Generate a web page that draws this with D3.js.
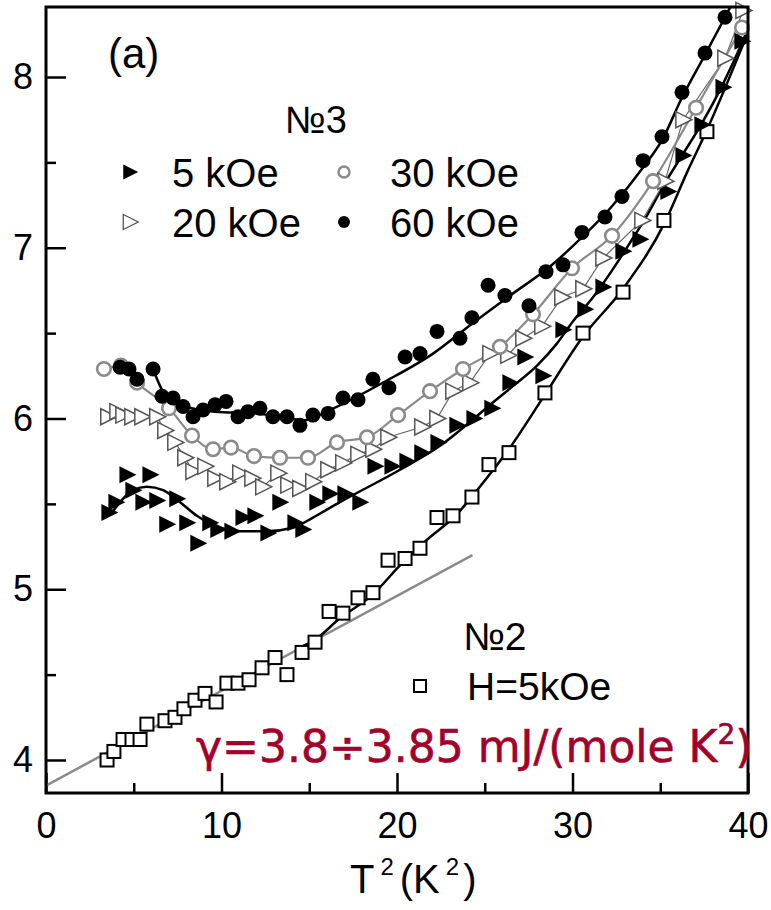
<!DOCTYPE html>
<html>
<head>
<meta charset="utf-8">
<script src="https://cdn.jsdelivr.net/npm/d3@7"></script>
<style>
  html, body { margin: 0; padding: 0; background: #fff; }
  svg { display: block; }
  text { font-family: "Liberation Sans", Arial, sans-serif; fill: #000; }
</style>
</head>
<body>
<div id="chart"></div>
<script>
// Tick values
const xTicks = [0, 10, 20, 30, 40];
const xMinorTicks = [5, 15, 25, 35];
const yTicks = [4, 5, 6, 7, 8];
const yMinorTicks = [4.5, 5.5, 6.5, 7.5];

// Sample №3, H = 5 kOe  [T^2, C/T]
const h5 = [[3.59,5.45],[3.99,5.51],[4.62,5.67],[4.96,5.58],[5.53,5.51],[5.93,5.67],[6.32,5.52],[6.89,5.38],
  [7.46,5.53],[8.03,5.39],[8.66,5.27],[9.34,5.39],[9.80,5.35],[10.60,5.34],[11.23,5.42],[11.91,5.43],
  [12.65,5.33],[13.33,5.51],[14.19,5.39],[14.64,5.35],[15.44,5.51],[16.18,5.56],[17.04,5.56],[17.89,5.51],
  [18.75,5.72],[19.72,5.72],[20.57,5.75],[21.42,5.80],[22.34,5.86],[23.42,5.96],[24.39,6.00],[25.41,6.06],
  [26.44,6.21],[27.29,6.36],[28.32,6.25],[29.46,6.52],[30.71,6.64],[31.74,6.77],[32.88,6.98],[33.85,7.05],
  [35.44,7.33],[36.30,7.54],[37.38,7.72],[38.58,7.94],[39.66,8.21]];

// Sample №3, H = 20 kOe
const h20 = [[3.53,6.01],[4.05,6.04],[4.39,6.02],[4.90,6.01],[5.47,6.01],[6.32,6.01],[6.78,5.93],[7.35,5.86],
  [7.92,5.77],[8.38,5.69],[9.06,5.72],[9.63,5.65],[10.31,5.63],[11.05,5.68],[11.74,5.65],[12.36,5.60],
  [13.22,5.68],[13.79,5.61],[14.47,5.59],[15.21,5.63],[16.07,5.70],[16.92,5.74],[17.78,5.79],[18.63,5.82],
  [19.49,5.89],[21.42,5.95],[22.28,6.00],[23.19,6.16],[24.16,6.21],[25.30,6.38],[26.32,6.37],[27.18,6.47],
  [28.26,6.54],[29.40,6.71],[30.60,6.76],[31.74,6.94],[33.96,7.16],[35.27,7.39],[36.30,7.75],[38.69,8.11],
  [39.72,8.39]];

// Sample №3, H = 30 kOe
const h30 = [[3.30,6.29],[4.27,6.31],[5.19,6.21],[7.01,6.06],[8.32,5.90],[9.52,5.82],[10.54,5.83],[11.85,5.78],
  [13.33,5.77],[14.93,5.77],[16.58,5.86],[18.29,5.89],[20.06,6.02],[21.88,6.16],[23.76,6.29],[25.87,6.42],
  [27.75,6.61],[29.97,6.88],[32.25,7.07],[34.59,7.39],[37.04,7.82],[39.66,8.29]];

// Sample №3, H = 60 kOe
const h60 = [[4.22,6.30],[4.73,6.29],[5.19,6.23],[6.10,6.29],[6.61,6.13],[7.24,6.12],[7.81,6.07],[8.38,6.01],
  [8.95,6.05],[9.63,6.08],[10.26,6.10],[10.94,6.01],[11.51,6.04],[12.19,6.06],[12.93,6.01],[13.73,6.01],
  [14.47,5.96],[15.21,6.02],[16.07,6.03],[16.92,6.12],[17.78,6.11],[18.63,6.23],[19.54,6.18],[20.46,6.36],
  [21.31,6.38],[22.28,6.51],[23.59,6.47],[24.27,6.59],[25.19,6.78],[26.15,6.72],[27.52,6.66],[28.49,6.86],
  [29.46,6.90],[30.54,7.09],[31.85,7.18],[32.82,7.30],[34.02,7.51],[35.10,7.65],[36.24,7.91],[37.55,8.14],
  [38.69,8.35]];

// Sample №2, H = 5 kOe
const sq = [[3.48,4.00],[3.87,4.05],[4.39,4.12],[4.90,4.12],[5.36,4.12],[5.75,4.21],[6.78,4.23],[7.35,4.25],
  [7.86,4.30],[8.49,4.35],[9.06,4.39],[9.69,4.34],[10.31,4.45],[10.94,4.45],[11.57,4.47],[12.31,4.54],
  [13.05,4.60],[13.73,4.50],[14.59,4.63],[15.33,4.69],[16.13,4.87],[16.92,4.86],[17.78,4.95],[18.63,4.98],
  [19.49,5.17],[20.46,5.18],[21.31,5.24],[22.28,5.42],[23.19,5.43],[24.27,5.54],[25.24,5.73],[26.38,5.80],
  [28.43,6.15],[30.60,6.50],[32.88,6.74],[35.21,7.16],[37.66,7.68]];

// Fitted curves
const fit5 = [[3.76,5.45],[4.96,5.58],[5.75,5.60],[6.67,5.58],[7.64,5.51],[8.60,5.43],[9.91,5.36],[11.05,5.34],
  [12.59,5.34],[14.07,5.36],[15.21,5.42],[16.75,5.51],[20.17,5.70],[22.45,5.84],[24.16,5.98],[25.30,6.08],
  [26.61,6.19],[27.98,6.31],[29.12,6.44],[30.03,6.57],[31.17,6.71],[32.14,6.85],[33.28,7.03],[34.25,7.19],
  [35.16,7.36],[36.30,7.55],[37.38,7.73],[38.58,7.96],[39.66,8.20],[40.3,8.36]];
const fit60 = [[6.10,6.29],[6.78,6.14],[7.92,6.07],[9.63,6.04],[11.91,6.03],[13.90,6.00],[14.76,5.99],[16.18,6.05],
  [19.20,6.21],[22.05,6.38],[24.33,6.56],[26.44,6.72],[28.72,6.89],[30.43,7.05],[32.14,7.23],[34.02,7.47],
  [35.10,7.63],[36.24,7.88],[37.55,8.13],[38.69,8.35],[39.3,8.47]];
const fitSq = [[14.47,4.66],[15.27,4.70],[16.75,4.83],[18.63,4.97],[20.17,5.14],[21.71,5.29],[23.42,5.44],
  [24.56,5.58],[26.44,5.83],[28.43,6.14],[30.60,6.48],[32.88,6.76],[35.27,7.15],[36.52,7.44],[37.66,7.69],
  [40.0,8.26],[40.4,8.36]];
// Linear low-temperature fit: C/T = gamma + beta*T^2
const gammaFit = [[0,3.85],[24.3,5.20]];

const W = 771, H = 910;
const svg = d3.select("#chart").append("svg").attr("width", W).attr("height", H);

const x = d3.scaleLinear().domain([0, 40]).range([46, 748]);
const y = d3.scaleLinear().domain([3.8067, 8.41]).range([793, 7]);

svg.append("defs").append("clipPath").attr("id", "plot")
  .append("rect").attr("x", 46).attr("y", 7).attr("width", 702).attr("height", 786);

// Axes: inward ticks on left and bottom
const axStyle = g => {
  g.select(".domain").remove();
  g.selectAll(".tick line").attr("stroke", "#000").attr("stroke-width", 2.5);
  g.selectAll(".tick text").style("font-size", "36px").attr("fill", "#000");
};
svg.append("g").attr("transform", "translate(46,0)")
  .call(d3.axisLeft(y).tickValues(yTicks).tickSize(-20).tickPadding(13).tickFormat(d3.format("d")))
  .call(axStyle);
svg.append("g").attr("transform", "translate(46,0)")
  .call(d3.axisLeft(y).tickValues(yMinorTicks).tickSize(-10).tickFormat(""))
  .call(axStyle);
svg.append("g").attr("transform", "translate(0,793)")
  .call(d3.axisBottom(x).tickValues(xTicks).tickSize(-20).tickPadding(19).tickFormat(d3.format("d")))
  .call(axStyle);
svg.append("g").attr("transform", "translate(0,793)")
  .call(d3.axisBottom(x).tickValues(xMinorTicks).tickSize(-10).tickFormat(""))
  .call(axStyle);

const plot = svg.append("g").attr("clip-path", "url(#plot)");
const lineLin = d3.line().x(d => x(d[0])).y(d => y(d[1]));
const lineSmooth = d3.line().x(d => x(d[0])).y(d => y(d[1])).curve(d3.curveMonotoneX);

// Curves
plot.append("path").datum(gammaFit).attr("d", lineLin).attr("fill", "none").attr("stroke", "#8a8a8a").attr("stroke-width", 2.5);
plot.append("path").datum(fitSq).attr("d", lineSmooth).attr("fill", "none").attr("stroke", "#000").attr("stroke-width", 2.5);
plot.append("path").datum(fit5).attr("d", lineSmooth).attr("fill", "none").attr("stroke", "#000").attr("stroke-width", 2.5);
plot.append("path").datum(h20).attr("d", lineLin).attr("fill", "none").attr("stroke", "#666").attr("stroke-width", 1.2);
plot.append("path").datum(h30).attr("d", lineSmooth).attr("fill", "none").attr("stroke", "#8a8a8a").attr("stroke-width", 2.2);
plot.append("path").datum(fit60).attr("d", lineSmooth).attr("fill", "none").attr("stroke", "#000").attr("stroke-width", 2.5);

// Marker shapes
const triRight = s => `M${-s*0.45},${-s*0.5}L${s*0.55},0L${-s*0.45},${s*0.5}Z`;
const markers = svg.append("g");

markers.selectAll(".sq").data(sq).join("rect").attr("class", "sq")
  .attr("x", d => x(d[0]) - 6.5).attr("y", d => y(d[1]) - 6.5).attr("width", 13).attr("height", 13)
  .attr("fill", "#fff").attr("stroke", "#000").attr("stroke-width", 2);
markers.selectAll(".h5").data(h5).join("path").attr("class", "h5")
  .attr("d", triRight(17)).attr("transform", d => `translate(${x(d[0])},${y(d[1])})`).attr("fill", "#000");
markers.selectAll(".h20").data(h20).join("path").attr("class", "h20")
  .attr("d", triRight(16)).attr("transform", d => `translate(${x(d[0])},${y(d[1])})`)
  .attr("fill", "#fff").attr("stroke", "#555").attr("stroke-width", 1.5);
markers.selectAll(".h30").data(h30).join("circle").attr("class", "h30")
  .attr("cx", d => x(d[0])).attr("cy", d => y(d[1])).attr("r", 6.8)
  .attr("fill", "#fff").attr("stroke", "#8a8a8a").attr("stroke-width", 2.6);
markers.selectAll(".h60").data(h60).join("circle").attr("class", "h60")
  .attr("cx", d => x(d[0])).attr("cy", d => y(d[1])).attr("r", 7.5).attr("fill", "#000");

// Frame
svg.append("rect").attr("x", 46).attr("y", 7).attr("width", 702).attr("height", 786)
  .attr("fill", "none").attr("stroke", "#000").attr("stroke-width", 3);

// Labels and legends
const T = (tx, ty, str, size) =>
  svg.append("text").attr("x", tx).attr("y", ty).text(str).style("font-size", size + "px");
T(108, 68, "(a)", 42);
T(285, 133, "№3", 38);

const leg = svg.append("g");
leg.append("path").attr("d", triRight(15)).attr("transform", "translate(130,172)").attr("fill", "#000");
leg.append("path").attr("d", triRight(15)).attr("transform", "translate(130,222)")
  .attr("fill", "#fff").attr("stroke", "#555").attr("stroke-width", 1.3);
leg.append("circle").attr("cx", 344).attr("cy", 172).attr("r", 5.5)
  .attr("fill", "#fff").attr("stroke", "#8a8a8a").attr("stroke-width", 2.4);
leg.append("circle").attr("cx", 344).attr("cy", 222).attr("r", 6).attr("fill", "#000");
T(172, 187, "5 kOe", 40);
T(390, 187, "30 kOe", 40);
T(172, 237, "20 kOe", 40);
T(390, 237, "60 kOe", 40);

T(463, 650, "№2", 39);
leg.append("rect").attr("x", 414).attr("y", 680).attr("width", 12).attr("height", 12)
  .attr("fill", "#fff").attr("stroke", "#000").attr("stroke-width", 2);
T(467, 700, "H=5kOe", 39);

const gam = svg.append("text").attr("x", 196).attr("y", 762)
  .style("font-family", "'Comic Sans MS', 'DejaVu Sans', sans-serif").style("font-size", "44px")
  .style("fill", "#a3002b").style("stroke", "#a3002b").style("stroke-width", "0.6px");
gam.append("tspan").text("γ=3.8÷3.85 mJ/(mole K");
gam.append("tspan").attr("dy", -18).style("font-size", "28px").text("2");
gam.append("tspan").attr("dy", 18).text(")");

// Axis title T^2 (K^2)
const title = svg.append("text").attr("x", 350).attr("y", 893).style("font-size", "40px");
title.append("tspan").text("T");
title.append("tspan").attr("dx", 6).attr("dy", -18).style("font-size", "24px").text("2");
title.append("tspan").attr("dx", 6).attr("dy", 18).text("(K");
title.append("tspan").attr("dx", 6).attr("dy", -18).style("font-size", "24px").text("2");
title.append("tspan").attr("dx", 4).attr("dy", 18).text(")");
</script>
</body>
</html>
